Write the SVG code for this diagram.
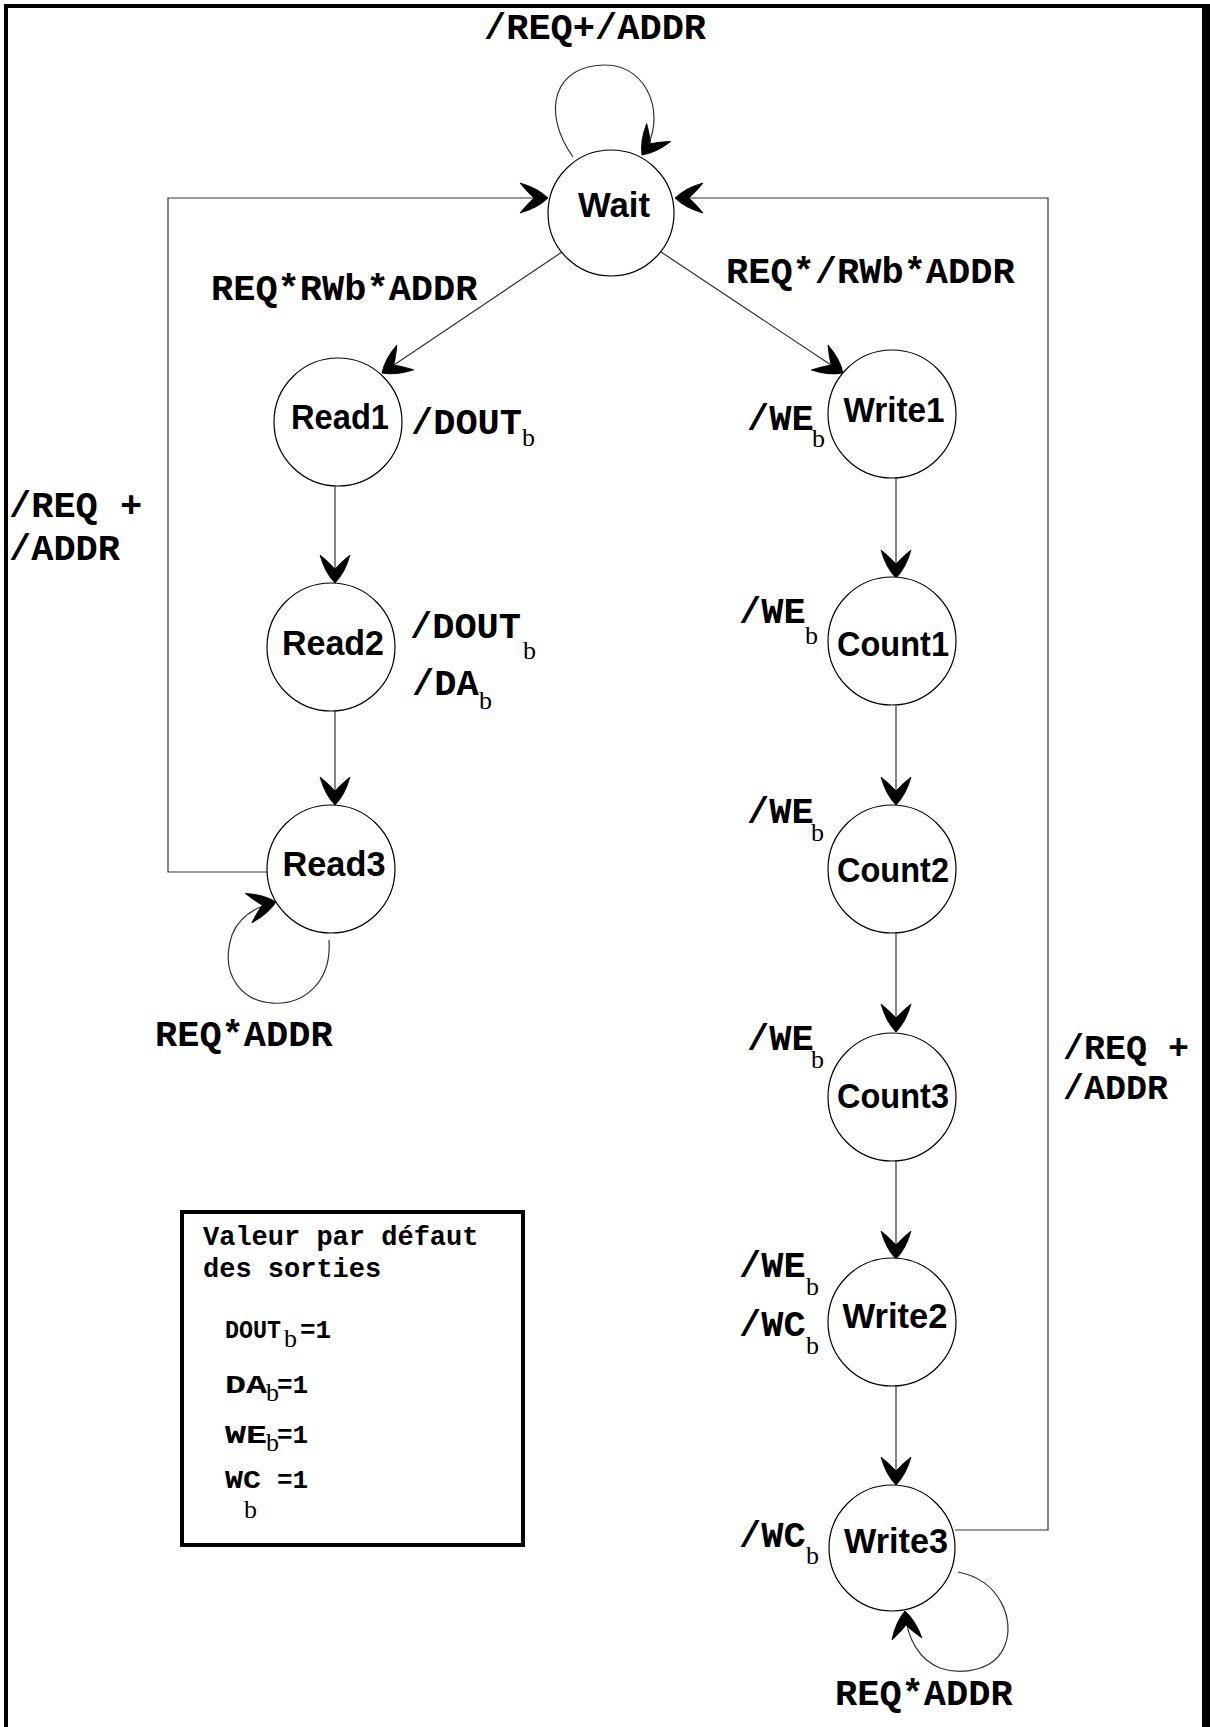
<svg xmlns="http://www.w3.org/2000/svg" width="1210" height="1727" viewBox="0 0 1210 1727">
<style>
.node circle{fill:#fff;stroke:#000;stroke-width:1.2}
.nt{font-family:"Liberation Sans",Arial,sans-serif;font-weight:bold;font-size:35px;fill:#000;text-anchor:middle}
.lb{font-family:"Liberation Mono","Courier New",monospace;font-weight:bold;font-size:37px;fill:#000}
.sb{font-family:"Liberation Serif","Times New Roman",serif;font-size:26px;fill:#000}
.lg{font-family:"Liberation Mono","Courier New",monospace;font-weight:bold;font-size:27px;fill:#000}
.ls{font-family:"Liberation Mono","Courier New",monospace;font-weight:bold;font-size:26px;fill:#000}
.cn path{fill:none;stroke:#333;stroke-width:1.2}
.arr{marker-end:url(#ah)}
</style>
<defs>
<marker id="ah" markerUnits="userSpaceOnUse" viewBox="-30 -16 32 32" markerWidth="32" markerHeight="32" refX="0" refY="0" orient="auto" overflow="visible">
<path d="M0,0 Q-10,-10 -28,-15 Q-20,-5 -14,0 Q-20,5 -28,15 Q-10,10 0,0 Z" fill="#000" stroke="#000" stroke-width="0.8" stroke-linejoin="round"/>
</marker>
</defs>
<rect width="1210" height="1727" fill="#fff"/>
<g id="frame" fill="#000">
<rect x="4" y="4" width="1200" height="4"/>
<rect x="4" y="4" width="4" height="1723"/>
<rect x="1202" y="4" width="8" height="1723"/>
</g>
<g id="connectors" class="cn">
<path class="arr" d="M573,157 C540,110 555,65 605,65 C650,65 668,120 642,155"/>
<path class="arr" d="M562,252 L382,373"/>
<path class="arr" d="M661,252 L843,373"/>
<path class="arr" d="M335,486 L335,583"/>
<path class="arr" d="M335,711 L335,805"/>
<path class="arr" d="M267,872 L168,872 L168,198 L548,198"/>
<path class="arr" d="M329,940 C335,1030 205,1020 232,935 C240,915 258,906 276,902"/>
<path class="arr" d="M896,478 L896,578"/>
<path class="arr" d="M896,706 L896,805"/>
<path class="arr" d="M896,933 L896,1032"/>
<path class="arr" d="M896,1161 L896,1259"/>
<path class="arr" d="M896,1385 L896,1485"/>
<path class="arr" d="M955,1530 L1048,1530 L1048,198 L675,198"/>
<path class="arr" d="M958,1572 C1000,1580 1015,1620 1005,1645 C995,1672 960,1675 940,1668 C920,1660 907,1640 905,1611"/>
</g>
<g id="labels">
<text class="lb" x="484" y="39">/REQ+/ADDR</text>
<text class="lb" x="211" y="300">REQ*RWb*ADDR</text>
<text class="lb" x="726" y="283">REQ*/RWb*ADDR</text>
<text class="lb" x="9" y="517">/REQ +</text>
<text class="lb" x="9" y="560">/ADDR</text>
<text class="lb" x="155" y="1046">REQ*ADDR</text>
<text class="lb" x="1063" y="1059" style="font-size:35px">/REQ +</text>
<text class="lb" x="1063" y="1099" style="font-size:35px">/ADDR</text>
<text class="lb" x="835" y="1705">REQ*ADDR</text>
</g>
<g id="n-wait" class="node"><circle cx="611" cy="213" r="63"/><text class="nt" x="614" y="217" textLength="72" lengthAdjust="spacingAndGlyphs">Wait</text></g>
<g id="n-read1" class="node"><circle cx="338" cy="422" r="64"/><text class="nt" x="340" y="429" textLength="98" lengthAdjust="spacingAndGlyphs">Read1</text>
<text class="lb" x="411" y="434">/DOUT</text><text class="sb" x="522" y="446">b</text></g>
<g id="n-read2" class="node"><circle cx="331" cy="647" r="64"/><text class="nt" x="333" y="655" textLength="102" lengthAdjust="spacingAndGlyphs">Read2</text>
<text class="lb" x="410" y="638">/DOUT</text><text class="sb" x="523" y="659">b</text>
<text class="lb" x="412" y="695">/DA</text><text class="sb" x="479" y="709">b</text></g>
<g id="n-read3" class="node"><circle cx="331" cy="869" r="64"/><text class="nt" x="334" y="876" textLength="103" lengthAdjust="spacingAndGlyphs">Read3</text></g>
<g id="n-write1" class="node"><circle cx="892" cy="414" r="64"/><text class="nt" x="894" y="422" textLength="101" lengthAdjust="spacingAndGlyphs">Write1</text>
<text class="lb" x="747" y="430">/WE</text><text class="sb" x="812" y="447">b</text></g>
<g id="n-count1" class="node"><circle cx="892" cy="641" r="64"/><text class="nt" x="893" y="656" textLength="112" lengthAdjust="spacingAndGlyphs">Count1</text>
<text class="lb" x="739" y="623">/WE</text><text class="sb" x="805" y="644">b</text></g>
<g id="n-count2" class="node"><circle cx="892" cy="869" r="64"/><text class="nt" x="893" y="882" textLength="112" lengthAdjust="spacingAndGlyphs">Count2</text>
<text class="lb" x="747" y="823">/WE</text><text class="sb" x="811" y="841">b</text></g>
<g id="n-count3" class="node"><circle cx="892" cy="1097" r="64"/><text class="nt" x="893" y="1108" textLength="112" lengthAdjust="spacingAndGlyphs">Count3</text>
<text class="lb" x="747" y="1050">/WE</text><text class="sb" x="811" y="1068">b</text></g>
<g id="n-write2" class="node"><circle cx="892" cy="1322" r="64"/><text class="nt" x="895" y="1328" textLength="105" lengthAdjust="spacingAndGlyphs">Write2</text>
<text class="lb" x="739" y="1277">/WE</text><text class="sb" x="806" y="1295">b</text>
<text class="lb" x="739" y="1336">/WC</text><text class="sb" x="806" y="1354">b</text></g>
<g id="n-write3" class="node"><circle cx="892" cy="1548" r="63"/><text class="nt" x="896" y="1553" textLength="104" lengthAdjust="spacingAndGlyphs">Write3</text>
<text class="lb" x="739" y="1547">/WC</text><text class="sb" x="806" y="1564">b</text></g>
<g id="legend">
<rect x="182" y="1212" width="341" height="333" fill="#fff" stroke="#000" stroke-width="4"/>
<text class="lg" x="203" y="1245">Valeur par défaut</text>
<text class="lg" x="203" y="1277">des sorties</text>
<text class="ls" x="225" y="1338" textLength="56" lengthAdjust="spacingAndGlyphs">DOUT</text><text class="sb" x="284" y="1347">b</text><text class="ls" x="300" y="1338">=1</text>
<text class="ls" x="225" y="1393" textLength="42" lengthAdjust="spacingAndGlyphs">DA</text><text class="sb" x="266" y="1401">b</text><text class="ls" x="277" y="1393">=1</text>
<text class="ls" x="225" y="1443" textLength="42" lengthAdjust="spacingAndGlyphs">WE</text><text class="sb" x="266" y="1451">b</text><text class="ls" x="277" y="1443">=1</text>
<text class="ls" x="225" y="1488" textLength="36" lengthAdjust="spacingAndGlyphs">WC</text><text class="sb" x="244" y="1518">b</text><text class="ls" x="277" y="1488">=1</text>
</g>
</svg>
